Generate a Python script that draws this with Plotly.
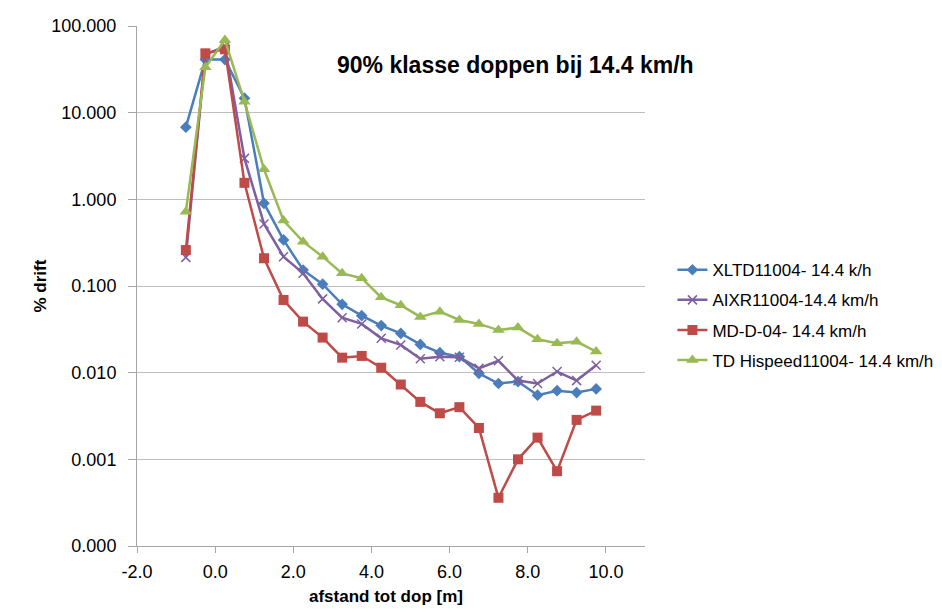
import plotly.graph_objects as go

x_vals = [-0.75, -0.25, 0.25, 0.75, 1.25, 1.75, 2.25, 2.75, 3.25, 3.75, 4.25,
          4.75, 5.25, 5.75, 6.25, 6.75, 7.25, 7.75, 8.25, 8.75, 9.25, 9.75]

xltd = [6.8, 41, 41, 14.7, 0.9, 0.34, 0.153, 0.105, 0.0615, 0.0455, 0.0349,
        0.0284, 0.0212, 0.017, 0.0153, 0.0098, 0.0075, 0.0079, 0.0055, 0.0062, 0.0059, 0.0065]
aixr = [0.214, 47, 58, 2.97, 0.52, 0.218, 0.14, 0.071, 0.043, 0.0365, 0.0249,
        0.0209, 0.0145, 0.0153, 0.0151, 0.0112, 0.0137, 0.0081, 0.0075, 0.0103, 0.0081, 0.0122]
mdd = [0.26, 48.4, 53.8, 1.55, 0.209, 0.069, 0.0388, 0.0254, 0.0149, 0.0156, 0.0114,
       0.0073, 0.0046, 0.0034, 0.004, 0.0023, 0.00036, 0.001, 0.00178, 0.00073, 0.00285, 0.00365]
tdh = [0.72, 33.4, 69, 13.4, 2.22, 0.57, 0.325, 0.218, 0.14, 0.123, 0.074,
       0.06, 0.044, 0.0506, 0.0406, 0.0365, 0.031, 0.0331, 0.0243, 0.0218, 0.0228, 0.0175]

names = ["XLTD11004- 14.4 k/h", "AIXR11004-14.4 km/h", "MD-D-04- 14.4 km/h", "TD Hispeed11004- 14.4 km/h"]
y_tickvals = [0.0001, 0.001, 0.01, 0.1, 1, 10, 100]
y_ticktext = ["0.000", "0.001", "0.010", "0.100", "1.000", "10.000", "100.000"]
x_tickvals = [-2, 0, 2, 4, 6, 8, 10]
x_ticktext = ["-2.0", "0.0", "2.0", "4.0", "6.0", "8.0", "10.0"]

FONT = "Liberation Sans, Arial, sans-serif"

fig = go.Figure()
fig.add_trace(go.Scatter(x=x_vals, y=xltd, name=names[0], mode="lines+markers", legendgroup="a",
                         line=dict(color="#4A7EBB", width=2.5),
                         marker=dict(symbol="diamond", size=9, color="#4A7EBB")))
fig.add_trace(go.Scatter(x=x_vals, y=aixr, name=names[1], mode="lines+markers", legendgroup="b",
                         line=dict(color="#7E5FA0", width=2.5),
                         marker=dict(symbol="x-thin", size=9, color="#7E5FA0",
                                     line=dict(color="#7E5FA0", width=1.5))))
fig.add_trace(go.Scatter(x=x_vals, y=mdd, name=names[2], mode="lines+markers", legendgroup="c",
                         line=dict(color="#BE4B48", width=2.5),
                         marker=dict(symbol="square", size=10, color="#BE4B48")))
fig.add_trace(go.Scatter(x=x_vals, y=tdh, name=names[3], mode="lines+markers", legendgroup="d",
                         line=dict(color="#98B954", width=2.5),
                         marker=dict(symbol="triangle-up", size=11, color="#98B954")))

fig.update_layout(
    width=942, height=616,
    margin=dict(l=137, r=297, t=26, b=70, autoexpand=False),
    paper_bgcolor="white", plot_bgcolor="white",
    font=dict(family=FONT, size=18, color="black"),
    showlegend=True,
    legend=dict(x=1.054, y=0.565, xanchor="left", yanchor="top",
                font=dict(size=17), tracegroupgap=5,
                bgcolor="rgba(0,0,0,0)"),
    xaxis=dict(range=[-2, 11], tickvals=x_tickvals, ticktext=x_ticktext,
               showgrid=False, zeroline=False, showline=True, linecolor="#A6A6A6",
               linewidth=1, ticks="outside", tickcolor="#A6A6A6", ticklen=6,
               ticklabelstandoff=3, tickfont=dict(size=18)),
    yaxis=dict(type="log", range=[-4, 2], tickvals=y_tickvals, ticktext=y_ticktext,
               showgrid=True, gridcolor="#BFBFBF", gridwidth=1, zeroline=False,
               showline=True, linecolor="#A6A6A6", linewidth=1, ticks="outside",
               tickcolor="#A6A6A6", ticklen=8, ticklabelstandoff=8, tickfont=dict(size=18)),
    annotations=[
        dict(text="<b>90% klasse doppen bij 14.4 km/h</b>", x=0.745, y=0.925,
             xref="paper", yref="paper", showarrow=False, xanchor="center",
             yanchor="middle", font=dict(size=23)),
        dict(text="<b>afstand tot dop [m]</b>", x=0.49, y=-0.098, xref="paper", yref="paper",
             showarrow=False, xanchor="center", yanchor="middle", font=dict(size=17)),
        dict(text="<b>% drift</b>", x=-0.19, y=0.5, xref="paper", yref="paper",
             showarrow=False, textangle=-90, xanchor="center", yanchor="middle",
             font=dict(size=17)),
    ],
)

fig.write_html("out.html")
